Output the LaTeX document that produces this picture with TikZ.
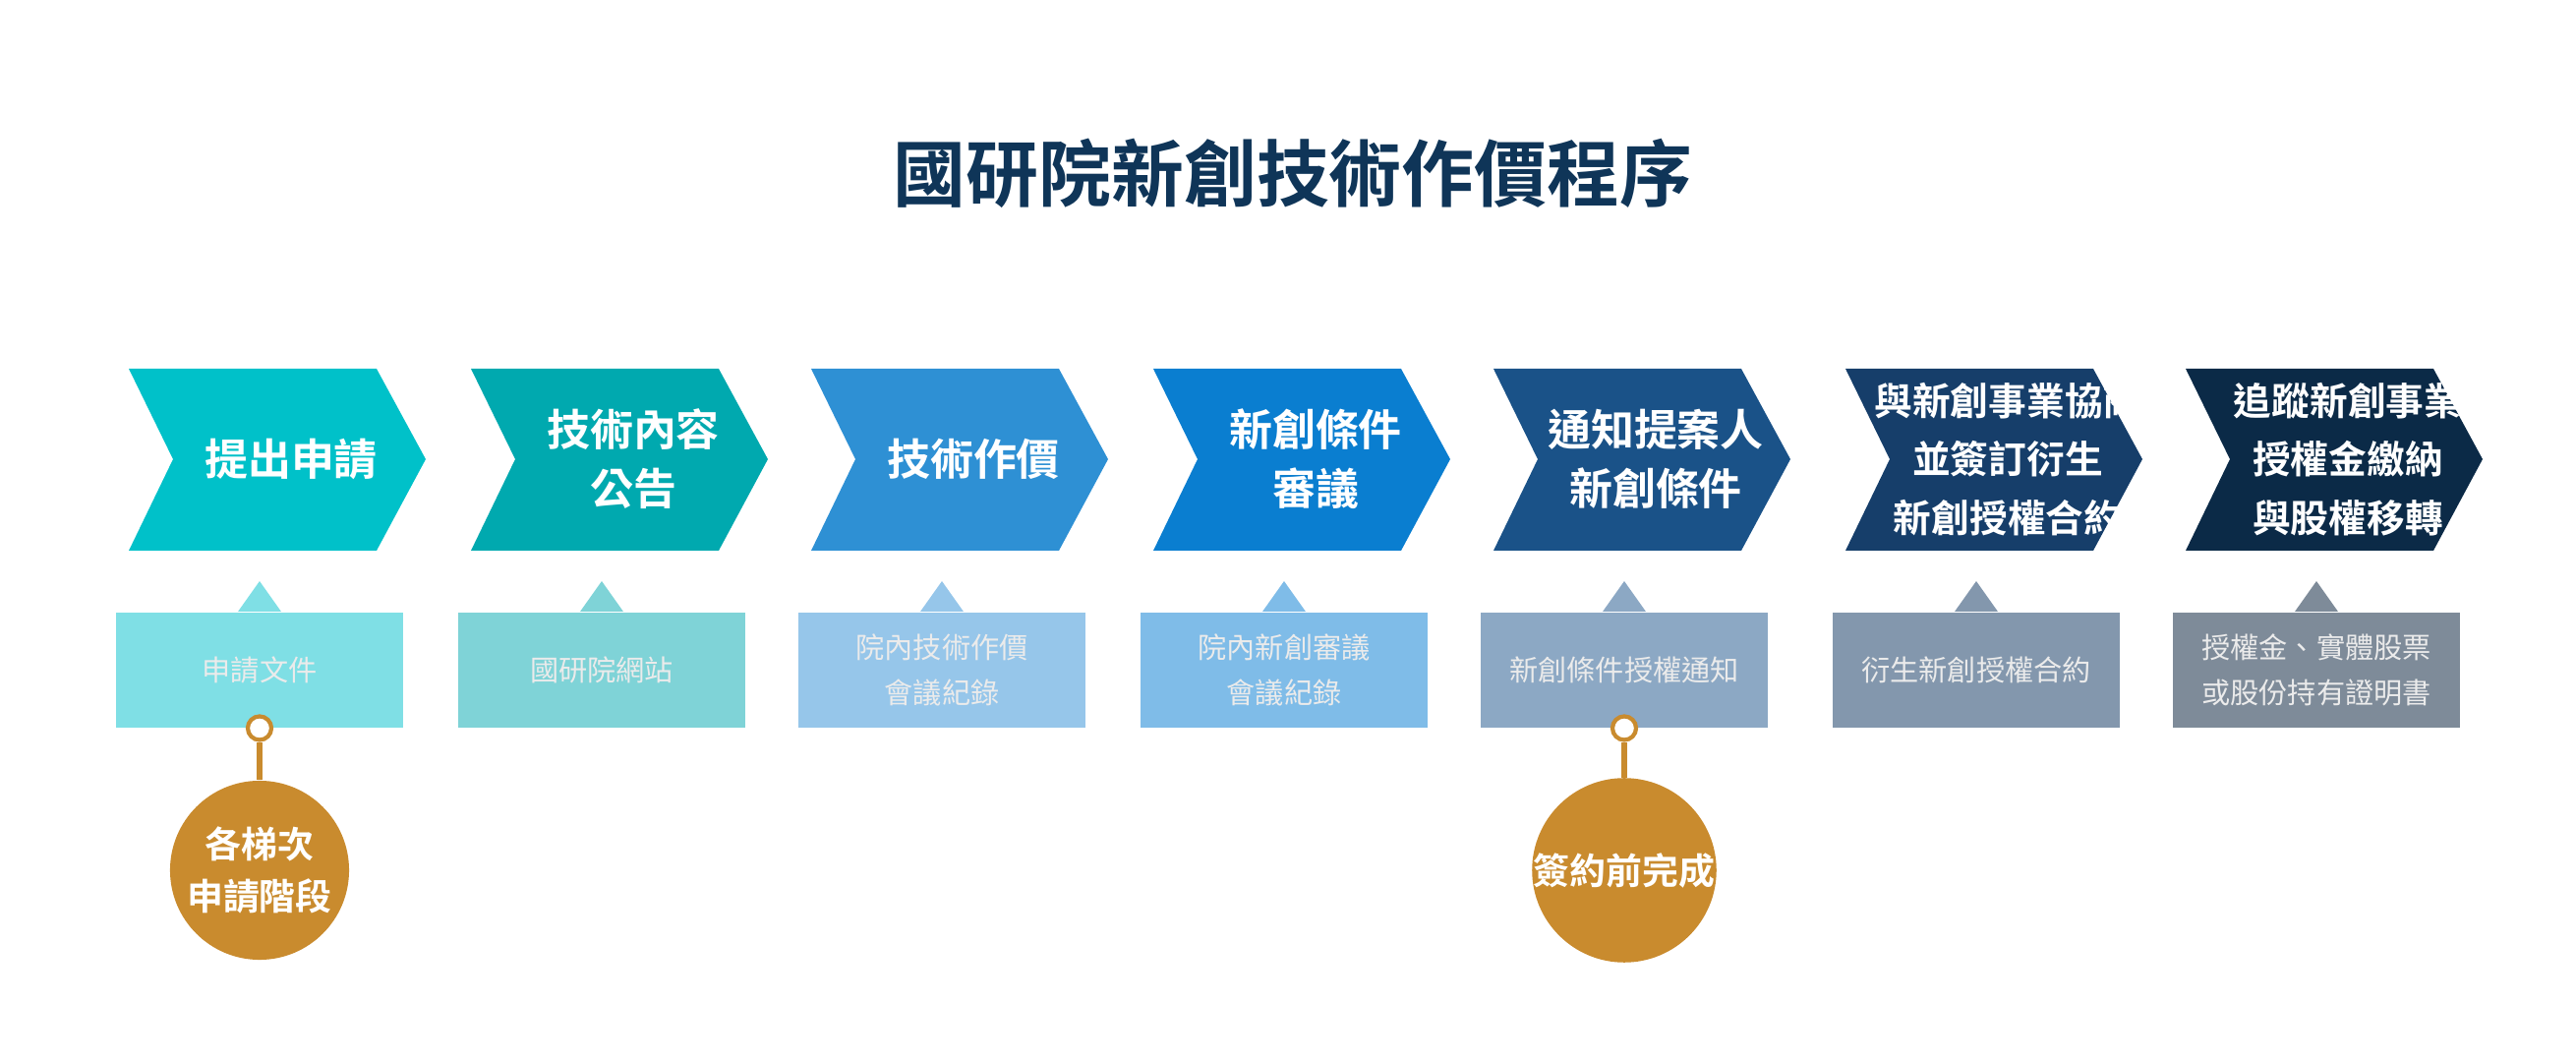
\documentclass[tikz,border=0pt]{standalone}
\usepackage{fontspec}
\setmainfont{Noto Sans CJK TC}
\newfontfamily\boldcjk{Noto Sans CJK TC Bold}
\usetikzlibrary{positioning}
\definecolor{titleblue}{HTML}{0F3558}
\definecolor{gold}{HTML}{C98B2E}
\definecolor{cA}{HTML}{00C1C9}\definecolor{bA}{HTML}{7FDFE5}
\definecolor{cB}{HTML}{00A9AF}\definecolor{bB}{HTML}{7FD3D7}
\definecolor{cC}{HTML}{2E90D4}\definecolor{bC}{HTML}{96C6EA}
\definecolor{cD}{HTML}{0A7ED0}\definecolor{bD}{HTML}{7FBCE8}
\definecolor{cE}{HTML}{1A5288}\definecolor{bE}{HTML}{8CA8C4}
\definecolor{cF}{HTML}{163E6A}\definecolor{bF}{HTML}{8397AD}
\definecolor{cG}{HTML}{0B2A47}\definecolor{bG}{HTML}{7E8B99}
\tikzset{
  steptext/.style={text=white,align=center,font=\boldcjk\fontsize{12.5}{17}\selectfont},
  notebox/.style={minimum width=2.91cm,minimum height=1.17cm,inner sep=0pt,align=center,
    text=white!92!black,font=\fontsize{8.3}{13}\selectfont},
  ring/.style={circle,draw=gold,line width=1.2pt,fill=white,minimum size=0.24cm,inner sep=0pt},
  goldball/.style={circle,fill=gold,minimum size=1.82cm,inner sep=0pt,align=center,
    text=white,font=\boldcjk\fontsize{10.5}{15}\selectfont},
}
\begin{document}
\begin{tikzpicture}[x=0.01cm,y=-0.01cm]
\useasboundingbox (0,0) rectangle (2620,1080);
\node[text=titleblue,font=\boldcjk\fontsize{21}{25}\selectfont] (title) at (1315,176) {國研院新創技術作價程序};
% steps
\foreach \x/\c/\b/\t/\n [count=\k] in {
  131/cA/bA/{提出申請}/{申請文件},
  479/cB/bB/{技術內容\\公告}/{國研院網站},
  825/cC/bC/{技術作價}/{院內技術作價\\會議紀錄},
  1173/cD/bD/{新創條件\\審議}/{院內新創審議\\會議紀錄},
  1519/cE/bE/{通知提案人\\新創條件}/{新創條件授權通知},
  1877/cF/bF/{\fontsize{11}{15}\selectfont 與新創事業協商\\\fontsize{11}{15}\selectfont 並簽訂衍生\\\fontsize{11}{15}\selectfont 新創授權合約}/{衍生新創授權合約},
  2223/cG/bG/{\fontsize{11}{15}\selectfont 追蹤新創事業\\\fontsize{11}{15}\selectfont 授權金繳納\\\fontsize{11}{15}\selectfont 與股權移轉}/{授權金、實體股票\\或股份持有證明書}}
{
  \fill[\c] (\x,375) -- (\x+252,375) -- (\x+302,467) -- (\x+252,560) -- (\x,560) -- (\x+45,467) -- cycle;
  \node[steptext] (step\k) at (\x+165,467) {\t};
  \fill[\b] (\x+133,591) -- (\x+155,622) -- (\x+111,622) -- cycle;
  \node[notebox,fill=\b,anchor=north] (note\k) at (\x+133,622) {\n};
}
% milestones
\node[ring] (ringA) at (note1.south) {};
\node[goldball] (ballA) at (264,885) {各梯次\\申請階段};
\draw[gold,line width=1.5pt] (ringA) -- (ballA);
\node[ring] (ringB) at (note5.south) {};
\node[goldball] (ballB) at (1652,885) {簽約前完成};
\draw[gold,line width=1.5pt] (ringB) -- (ballB);
\end{tikzpicture}
\end{document}
